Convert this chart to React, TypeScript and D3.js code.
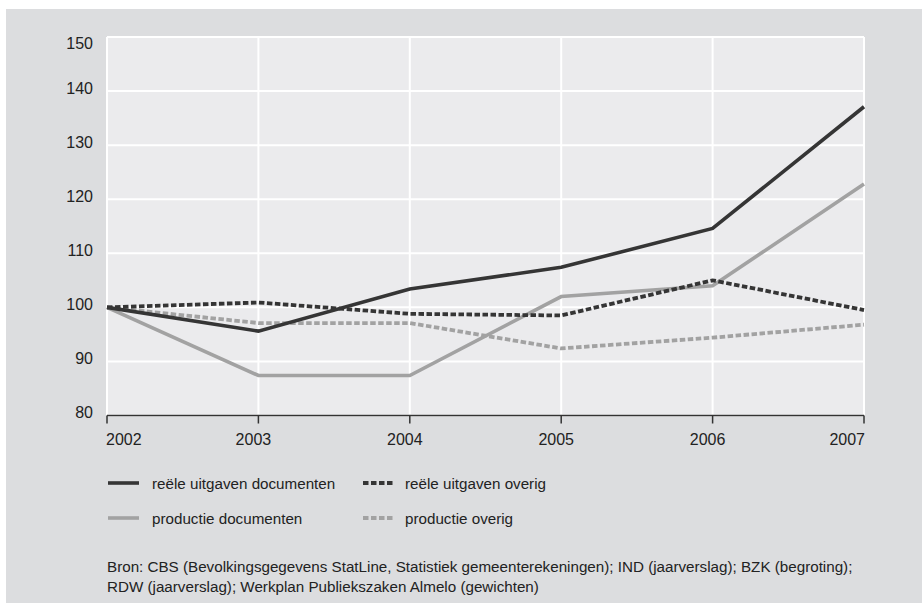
import React from "react";
import * as d3 from "d3";

const years = [2002, 2003, 2004, 2005, 2006, 2007];
const reeleDocumenten = [100, 95.6, 103.4, 107.4, 114.6, 137.1];
const reeleOverig = [100, 100.9, 98.8, 98.5, 105.0, 99.5];
const productieDocumenten = [100, 87.4, 87.4, 102.0, 104.0, 122.8];
const productieOverig = [100, 97.1, 97.1, 92.4, 94.4, 96.8];
const yTicks = [80, 90, 100, 110, 120, 130, 140, 150];
const seriesNames = [
  "reële uitgaven documenten",
  "reële uitgaven overig",
  "productie documenten",
  "productie overig",
];
const sourceLines = [
  "Bron: CBS (Bevolkingsgegevens StatLine, Statistiek gemeenterekeningen); IND (jaarverslag); BZK (begroting);",
  "RDW (jaarverslag); Werkplan Publiekszaken Almelo (gewichten)",
];

const DARK = "#353535";
const LIGHT = "#a2a2a2";
const FONT = "'Liberation Sans', Arial, sans-serif";

export default function App() {
  const W = 922, H = 603;
  const left = 107, right = 864, top = 37, bottom = 415.5;
  const x = d3.scaleLinear().domain([2002, 2007]).range([left, right]);
  const y = d3.scaleLinear().domain([80, 150]).range([bottom, top]);

  const series = [
    { name: seriesNames[0], values: reeleDocumenten, color: DARK, dash: undefined, width: 3.6 },
    { name: seriesNames[1], values: reeleOverig, color: DARK, dash: "5.5,2.5", width: 3.8 },
    { name: seriesNames[2], values: productieDocumenten, color: LIGHT, dash: undefined, width: 3.6 },
    { name: seriesNames[3], values: productieOverig, color: LIGHT, dash: "5.5,2.5", width: 3.8 },
  ];
  const line = d3
    .line<[number, number]>()
    .x((d) => x(d[0]))
    .y((d) => y(d[1]));

  const drawOrder = [3, 2, 1, 0];

  const legendPos = [
    { lx: 108, tx: 152, ly: 483 },
    { lx: 363, tx: 405, ly: 483 },
    { lx: 108, tx: 152, ly: 518 },
    { lx: 363, tx: 405, ly: 518 },
  ];

  return (
    <svg
      width={W}
      height={H}
      style={{ position: "absolute", left: 0, top: 0, display: "block" }}
      fontFamily={FONT}
    >
      <rect x={0} y={0} width={W} height={H} fill="#ffffff" />
      <rect x={6} y={9} width={W - 6} height={H - 9} fill="#dcdddf" />
      <rect x={left} y={top} width={right - left} height={bottom - top} fill="#ebebed" />
      {yTicks.map((t) => (
        <line key={"h" + t} x1={left} x2={right} y1={y(t)} y2={y(t)} stroke="#ffffff" strokeWidth={2} />
      ))}
      {years.map((yr) => (
        <line key={"v" + yr} x1={x(yr)} x2={x(yr)} y1={top} y2={bottom} stroke="#ffffff" strokeWidth={2} />
      ))}
      {yTicks.map((t, i) => (
        <text
          key={"yl" + t}
          x={93}
          y={i === yTicks.length - 1 ? y(t) + 6 : y(t) - 3}
          textAnchor="end"
          dominantBaseline="central"
          fontSize={16}
          fill="#222"
        >
          {t}
        </text>
      ))}
      <line x1={left} x2={right} y1={bottom} y2={bottom} stroke="#333" strokeWidth={1.5} />
      {years.map((yr) => (
        <line key={"t" + yr} x1={x(yr)} x2={x(yr)} y1={bottom} y2={bottom + 8} stroke="#333" strokeWidth={1.5} />
      ))}
      {years.map((yr, i) => (
        <text
          key={"xl" + yr}
          x={i === 0 ? x(yr) - 1 : i === years.length - 1 ? x(yr) + 1 : x(yr) - 5}
          y={445}
          textAnchor={i === 0 ? "start" : i === years.length - 1 ? "end" : "middle"}
          fontSize={16}
          fill="#222"
        >
          {yr}
        </text>
      ))}
      {drawOrder.map((si) => {
        const s = series[si];
        const pts = years.map((yr, i) => [yr, s.values[i]] as [number, number]);
        return (
          <path
            key={s.name}
            d={line(pts) || ""}
            fill="none"
            stroke={s.color}
            strokeWidth={s.width}
            strokeDasharray={s.dash}
            strokeLinejoin="miter"
          />
        );
      })}
      {series.map((s, i) => {
        const p = legendPos[i];
        return (
          <g key={"lg" + i}>
            <line
              x1={p.lx}
              x2={p.lx + 31}
              y1={p.ly}
              y2={p.ly}
              stroke={s.color}
              strokeWidth={s.width}
              strokeDasharray={s.dash}
            />
            <text x={p.tx} y={p.ly} dominantBaseline="central" fontSize={15.2} fill="#222">
              {s.name}
            </text>
          </g>
        );
      })}
      {sourceLines.map((l, i) => (
        <text key={"src" + i} x={107} y={566 + i * 20} dominantBaseline="central" fontSize={15.2} fill="#222">
          {l}
        </text>
      ))}
    </svg>
  );
}
